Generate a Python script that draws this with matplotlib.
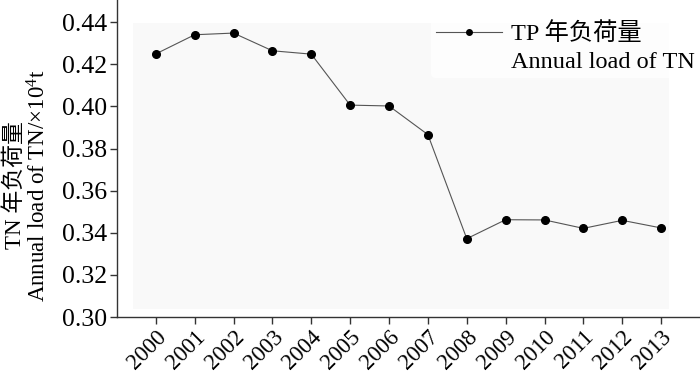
import matplotlib
matplotlib.use("Agg")
import matplotlib.pyplot as plt
from matplotlib.lines import Line2D
from matplotlib.patches import Rectangle

plt.rcParams['font.family'] = ['Liberation Serif', 'Noto Sans CJK SC', 'DejaVu Sans']
plt.rcParams['mathtext.fontset'] = 'custom'
plt.rcParams['mathtext.rm'] = 'Liberation Serif'
plt.rcParams['mathtext.it'] = 'Liberation Serif'

years = [2000, 2001, 2002, 2003, 2004, 2005, 2006, 2007, 2008, 2009, 2010, 2011, 2012, 2013]
tn_load = [0.4249, 0.4340, 0.4348, 0.4264, 0.4248, 0.4006, 0.4002, 0.3866,
           0.3372, 0.3462, 0.3461, 0.3421, 0.3459, 0.3423]
yticks = [0.30, 0.32, 0.34, 0.36, 0.38, 0.40, 0.42, 0.44]
legend_line1 = "TP 年负荷量"
legend_line2 = "Annual load of TN"
ylabel = "TN 年负荷量\nAnnual load of TN/×10$^4$t"

fig = plt.figure(figsize=(7.0, 3.73), dpi=100)
ax = fig.add_axes([0.167, 0.150, 0.833, 0.850])

ax.add_patch(Rectangle((0.028, 0.024), 0.918, 0.905, transform=ax.transAxes,
                       facecolor='#f9f9f9', edgecolor='none', zorder=0))

ax.plot(years, tn_load, color='#555555', lw=0.8, marker='o', markersize=5.5,
        markerfacecolor='black', markeredgecolor='black', zorder=3)

ax.set_xlim(1999, 2014)
ax.set_ylim(0.30, 0.4505)
ax.set_xticks(years)
ax.set_xticklabels([str(y) for y in years], rotation=45, ha='right',
                   rotation_mode='anchor', fontsize=16.5)
ax.set_yticks(yticks)
ax.set_yticklabels([f"{v:.2f}" for v in yticks], fontsize=18.5)

for s in ['top', 'right']:
    ax.spines[s].set_visible(False)
for s in ['left', 'bottom']:
    ax.spines[s].set_color('#333333')
    ax.spines[s].set_linewidth(1.0)
ax.tick_params(axis='both', direction='out', length=5, width=1, color='#333333',
               pad=2)
ax.tick_params(axis='x', pad=2)

ax.set_ylabel(ylabel, fontsize=16.5, linespacing=1.05)
ax.yaxis.set_label_coords(-0.114, 0.415)

h1 = Line2D([], [], color='#555555', lw=0.8, marker='o', markersize=4,
            markerfacecolor='black', markeredgecolor='black')
h2 = Line2D([], [], color='none')
leg = ax.legend([h1, h2], [legend_line1, legend_line2], loc='upper right',
                bbox_to_anchor=(1.0, 0.945), frameon=True, fontsize=17.5,
                handlelength=2.7, handletextpad=0.4, labelspacing=0.25,
                borderaxespad=0.0, borderpad=0.2)
leg.get_frame().set_facecolor('white')
leg.get_frame().set_edgecolor('none')

fig.savefig("out.png", dpi=100)
